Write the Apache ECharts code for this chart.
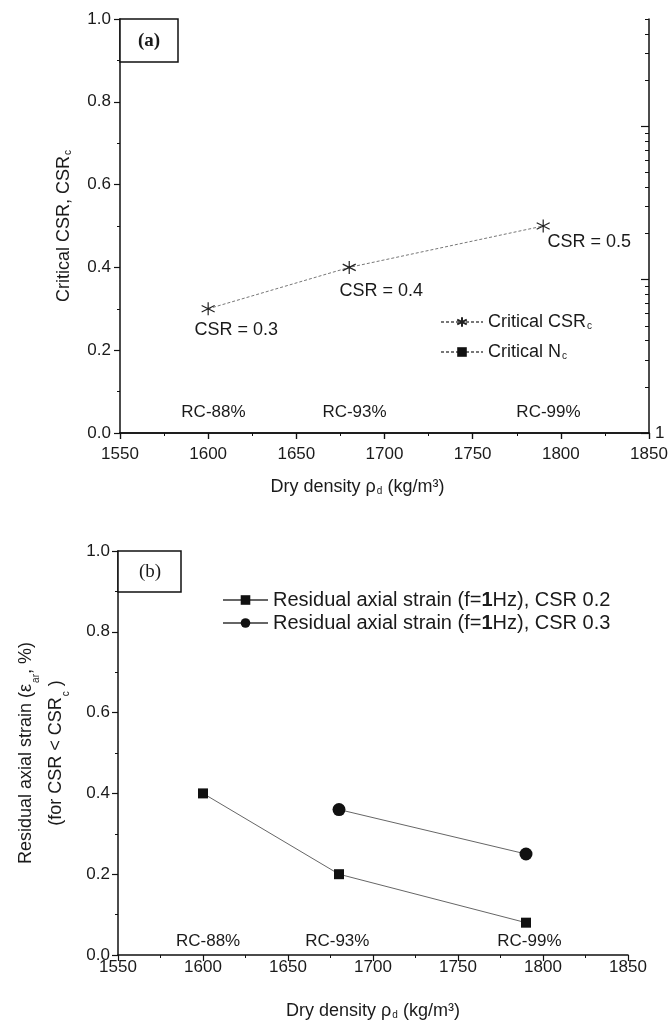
<!DOCTYPE html>
<html><head><meta charset="utf-8">
<script src="https://cdn.jsdelivr.net/npm/echarts@6/dist/echarts.min.js"></script>
<style>html,body{margin:0;padding:0;background:#fff}#c{width:670px;height:1027px}</style>
</head><body><div id="c"></div>
<script>
// ---- data ----
const densityTicks = [1550, 1600, 1650, 1700, 1750, 1800, 1850];
const yTicks = [0, 0.2, 0.4, 0.6, 0.8, 1.0];
const ncMajorTicks = [1, 10, 100];
const ncMinorTicks = [2, 3, 4, 5, 6, 7, 8, 9, 20, 30, 40, 50, 60, 70, 80, 90, 200, 300, 400, 500];
const ncMax = 500;
const ncTickLabels = ['1'];

const seriesNamesA = ['Critical CSRc', 'Critical Nc'];
const csrDensity = [1600, 1680, 1790];
const csrValues = [0.3, 0.4, 0.5];
const csrLabels = ['CSR = 0.3', 'CSR = 0.4', 'CSR = 0.5'];
const ncDensity = [];
const ncValues = [];

const rcLabels = ['RC-88%', 'RC-93%', 'RC-99%'];
const rcDensityA = [1603, 1683, 1793];
const rcDensityB = [1603, 1679, 1792];

const seriesNamesB = ['Residual axial strain (f=1Hz), CSR 0.2', 'Residual axial strain (f=1Hz), CSR 0.3'];
const strainDensity02 = [1600, 1680, 1790];
const strain02 = [0.40, 0.20, 0.08];
const strainDensity03 = [1680, 1790];
const strain03 = [0.36, 0.25];

// ---- layout / style ----
const FONT = 'Liberation Sans, Arial, sans-serif';
const TXT = '#1a1a1a';
const AX = '#111';
const subRich = { sub: { fontSize: 10, verticalAlign: 'bottom', padding: [8, 0, 0, 1] } };
const csrLabelOffsets = [[28, 0], [32, 3], [46, -5]];
const starPath = 'path://M0,-10L0,10M-8.66,-5L8.66,5M-8.66,5L8.66,-5';
const log10 = Math.log10;

function xAxisBase(grid, margin) {
  return {
    type: 'value', gridIndex: grid,
    min: densityTicks[0], max: densityTicks[densityTicks.length - 1],
    interval: densityTicks[1] - densityTicks[0],
    axisLine: { lineStyle: { color: AX, width: 1.5 } },
    axisTick: { length: 6, lineStyle: { color: AX, width: 1.2 } },
    minorTick: { show: true, splitNumber: 2, length: 3, lineStyle: { color: AX, width: 1 } },
    splitLine: { show: false },
    axisLabel: { fontSize: 17, color: TXT, fontFamily: FONT, margin: margin, formatter: v => String(v) },
    nameLocation: 'middle',
    nameTextStyle: { fontSize: 18, color: TXT, fontFamily: FONT, rich: subRich }
  };
}
function yAxisBase(grid, margin) {
  return {
    type: 'value', gridIndex: grid,
    min: yTicks[0], max: yTicks[yTicks.length - 1], interval: yTicks[1] - yTicks[0],
    axisLine: { lineStyle: { color: AX, width: 1.5 } },
    axisTick: { length: 6, lineStyle: { color: AX, width: 1.2 } },
    minorTick: { show: true, splitNumber: 2, length: 3, lineStyle: { color: AX, width: 1 } },
    splitLine: { show: false },
    axisLabel: { fontSize: 17, color: TXT, fontFamily: FONT, margin: margin, formatter: v => v.toFixed(1) },
    nameLocation: 'middle', nameRotate: 90,
    nameTextStyle: { fontSize: 18, color: TXT, fontFamily: FONT, rich: subRich }
  };
}

const xA = Object.assign(xAxisBase(0, 13), {
  name: 'Dry density ρ{sub|d} (kg/m³)', nameGap: 45
});
xA.nameTextStyle = Object.assign({}, xA.nameTextStyle, { padding: [0, 54, 0, 0] });
const xATop = Object.assign(xAxisBase(0, 8), {
  position: 'top', axisLabel: { show: false },
  axisTick: { inside: true, length: 6, lineStyle: { color: AX, width: 1.2 } },
  minorTick: { show: false }
});
const xB = Object.assign(xAxisBase(1, 4), {
  name: 'Dry density ρ{sub|d} (kg/m³)', nameGap: 47
});
const yA = Object.assign(yAxisBase(0, 9), { name: 'Critical CSR, CSR{sub|c}', nameGap: 47 });
const yB = Object.assign(yAxisBase(1, 8), {
  name: 'Residual axial strain (ε{sub|ar}, %)\n(for CSR < CSR{sub|c} )', nameGap: 47
});
yB.nameTextStyle = Object.assign({}, yB.nameTextStyle, { lineHeight: 30 });

const ncAxisMax = log10(ncMax);
const yARightMajor = {
  type: 'value', gridIndex: 0, position: 'right', min: 0, max: ncAxisMax,
  axisLine: { show: true, lineStyle: { color: AX, width: 1.5 } },
  axisTick: { inside: true, length: 8, customValues: ncMajorTicks.map(log10), lineStyle: { color: AX, width: 1.2 } },
  axisLabel: { customValues: ncTickLabels.map(Number).map(log10), formatter: v => ncTickLabels[0],
    fontSize: 17, color: TXT, fontFamily: FONT, margin: 6 },
  splitLine: { show: false }
};
const yARightMinor = {
  type: 'value', gridIndex: 0, position: 'right', min: 0, max: ncAxisMax,
  axisLine: { show: false },
  axisTick: { inside: true, length: 4, customValues: ncMinorTicks.map(log10), lineStyle: { color: AX, width: 1 } },
  axisLabel: { show: false },
  splitLine: { show: false }
};

const rcLabel = { show: true, position: 'inside', formatter: p => rcLabels[p.dataIndex],
  fontSize: 17, color: TXT, fontFamily: FONT, opacity: 1 };

const option = {
  animation: false,
  backgroundColor: '#fff',
  textStyle: { fontFamily: FONT },
  grid: [
    { left: 120, top: 19, width: 529, height: 414, outerBoundsMode: 'none', containLabel: false },
    { left: 118, top: 551, width: 510, height: 404, outerBoundsMode: 'none', containLabel: false }
  ],
  xAxis: [xA, xATop, xB],
  yAxis: [yA, yARightMajor, yARightMinor, yB],
  legend: [
    {
      data: seriesNamesA, orient: 'vertical', left: 435, top: 308,
      itemWidth: 42, itemHeight: 12, itemGap: 12,
      formatter: n => n === seriesNamesA[0] ? 'Critical CSR{sub|c}' : 'Critical N{sub|c}',
      textStyle: { fontSize: 18, color: TXT, fontFamily: FONT, rich: subRich }
    },
    {
      data: seriesNamesB, orient: 'vertical', left: 217, top: 585,
      itemWidth: 45, itemHeight: 12, itemGap: 3,
      formatter: n => n.replace('f=1Hz', 'f={b|1}Hz'),
      textStyle: { fontSize: 20, color: TXT, fontFamily: FONT,
        rich: { b: { fontWeight: 'bold', fontSize: 20 } } }
    }
  ],
  series: [
    {
      type: 'line', name: seriesNamesA[0], xAxisIndex: 0, yAxisIndex: 0,
      data: csrDensity.map((x, i) => ({ value: [x, csrValues[i]], label: { offset: csrLabelOffsets[i] } })),
      symbol: starPath, symbolSize: 13,
      itemStyle: { color: '#222', borderColor: '#222', borderWidth: 1.2 },
      lineStyle: { color: '#777', width: 1, type: [3, 2] },
      label: { show: true, position: 'bottom', formatter: p => csrLabels[p.dataIndex],
        fontSize: 18, color: TXT, fontFamily: FONT }
    },
    {
      type: 'line', name: seriesNamesA[1], xAxisIndex: 0, yAxisIndex: 1,
      data: ncDensity.map((x, i) => [x, log10(ncValues[i])]),
      symbol: 'rect', symbolSize: 10,
      itemStyle: { color: '#111' },
      lineStyle: { color: '#777', width: 1, type: [3, 2] }
    },
    {
      type: 'scatter', name: 'rcA', xAxisIndex: 0, yAxisIndex: 0,
      data: rcDensityA.map(x => [x, 0.05]), symbolSize: 0, silent: true,
      itemStyle: { opacity: 1 }, label: rcLabel
    },
    {
      type: 'line', name: seriesNamesB[0], xAxisIndex: 2, yAxisIndex: 3,
      data: strainDensity02.map((x, i) => [x, strain02[i]]),
      symbol: 'rect', symbolSize: 10,
      itemStyle: { color: '#111' },
      lineStyle: { color: '#666', width: 1 }
    },
    {
      type: 'line', name: seriesNamesB[1], xAxisIndex: 2, yAxisIndex: 3,
      data: strainDensity03.map((x, i) => [x, strain03[i]]),
      symbol: 'circle', symbolSize: 13,
      itemStyle: { color: '#111' },
      lineStyle: { color: '#666', width: 1 }
    },
    {
      type: 'scatter', name: 'rcB', xAxisIndex: 2, yAxisIndex: 3,
      data: rcDensityB.map(x => [x, 0.035]), symbolSize: 0, silent: true,
      itemStyle: { opacity: 1 }, label: rcLabel
    }
  ],
  graphic: [
    { type: 'rect', shape: { x: 120, y: 19, width: 58, height: 43 },
      style: { fill: '#fff', stroke: AX, lineWidth: 1.5 }, z: 100 },
    { type: 'text', x: 149, y: 41, style: { text: '(a)', font: 'bold 19px "Liberation Serif", serif',
      fill: TXT, align: 'center', verticalAlign: 'middle' }, z: 101 },
    { type: 'rect', shape: { x: 118, y: 551, width: 63, height: 41 },
      style: { fill: '#fff', stroke: AX, lineWidth: 1.5 }, z: 100 },
    { type: 'text', x: 150, y: 572, style: { text: '(b)', font: '19px "Liberation Serif", serif',
      fill: TXT, align: 'center', verticalAlign: 'middle' }, z: 101 }
  ]
};

const chart = echarts.init(document.getElementById('c'));
chart.setOption(option);
</script>
</body></html>
